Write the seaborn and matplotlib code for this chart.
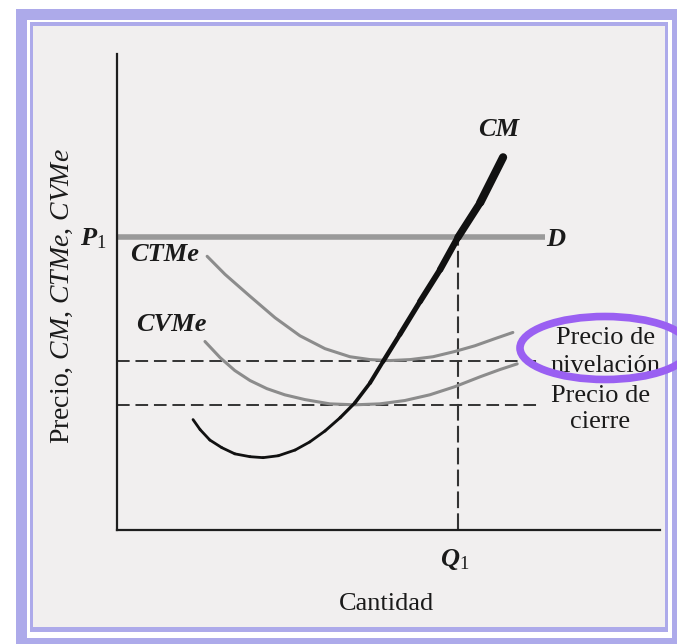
import matplotlib
matplotlib.use("Agg")
import matplotlib.pyplot as plt
from matplotlib.patches import Rectangle, Ellipse
import seaborn as sns
import numpy as np

# Datos (unidades: 0-100 en ambos ejes)
cm_q = [14.0, 15.3, 17.1, 19.3, 21.7, 24.5, 26.9, 29.7, 32.8, 35.5, 38.3,
        41.1, 43.8, 46.6, 49.0, 52.1, 55.8, 59.5, 62.8, 66.9, 71.1]
cm_p = [23.2, 21.1, 18.9, 17.3, 16.0, 15.4, 15.2, 15.6, 16.8, 18.5, 20.8,
        23.6, 26.7, 30.9, 35.4, 41.1, 48.0, 54.7, 61.5, 68.8, 78.3]
# grosor del trazo de CM en cada tramo (se engrosa hacia arriba)
cm_width = [2.0, 2.0, 2.0, 2.0, 2.0, 2.0, 2.0, 2.0, 2.0, 2.0, 2.0,
            2.1, 2.3, 2.6, 2.9, 3.3, 3.7, 4.2, 4.7, 5.3, 5.9]

ctme_q = [16.6, 19.9, 24.5, 29.1, 33.7, 38.3, 42.9, 46.6, 50.3, 54.0, 58.2,
          62.2, 65.9, 69.6, 72.9]
ctme_p = [57.5, 53.7, 49.1, 44.6, 40.8, 38.1, 36.4, 35.8, 35.6, 35.8, 36.4,
          37.5, 38.7, 40.2, 41.5]

cvme_q = [16.2, 19.0, 21.7, 24.5, 27.6, 30.9, 34.6, 39.2, 43.8, 48.4, 53.0,
          57.6, 62.2, 66.9, 70.5, 73.7]
cvme_p = [39.6, 36.2, 33.5, 31.4, 29.7, 28.4, 27.4, 26.5, 26.3, 26.5, 27.2,
          28.4, 30.1, 32.2, 33.7, 34.9]

p1 = 61.5          # precio de mercado (D)
q1 = 62.8          # cantidad óptima
p_nivel = 35.6     # precio de nivelación (mín. CTMe)
p_cierre = 26.3    # precio de cierre (mín. CVMe)
d_end = 78.8
dash_end = 77.9

sns.set_theme(style="white")
plt.rcParams['font.family'] = ['Liberation Serif', 'DejaVu Serif']
plt.rcParams['mathtext.fontset'] = 'custom'
plt.rcParams['mathtext.rm'] = 'Liberation Serif'
plt.rcParams['mathtext.it'] = 'Liberation Serif:italic'
plt.rcParams['mathtext.cal'] = 'Liberation Serif:italic:bold'

W, H = 677, 644
fig = plt.figure(figsize=(W / 100, H / 100), dpi=100, facecolor='white')

lav = '#adaaea'


def box(x0, y0, x1, y1, color):
    # rectángulo en píxeles (origen arriba a la izquierda)
    fig.add_artist(Rectangle((x0 / W, 1 - y1 / H), (x1 - x0) / W, (y1 - y0) / H,
                             transform=fig.transFigure, facecolor=color,
                             edgecolor='none', zorder=-5))


# marco lila
box(16, 9, 680, 648, lav)
box(27, 20, 672, 638, 'white')
box(30, 22, 668, 632, lav)
box(33, 26, 665, 627, '#f1efef')

ax = fig.add_axes([117 / W, 1 - 530 / H, (660 - 117) / W, (530 - 54) / H])
ax.set_facecolor('none')
ax.set_xlim(0, 100)
ax.set_ylim(0, 100)
ax.set_xticks([])
ax.set_yticks([])
sns.despine(ax=ax)
for s in ['left', 'bottom']:
    ax.spines[s].set_color('#1e1e1e')
    ax.spines[s].set_linewidth(1.6)

# líneas de referencia
ax.plot([0, d_end], [p1, p1], color='#9a9a9a', lw=4, solid_capstyle='butt')
ax.plot([0, dash_end], [p_nivel, p_nivel], color='#333333', lw=1.4,
        linestyle=(0, (6.5, 3)))
ax.plot([0, dash_end], [p_cierre, p_cierre], color='#333333', lw=1.4,
        linestyle=(0, (6.5, 3)))
ax.plot([q1, q1], [0, p1], color='#333333', lw=1.5, linestyle=(0, (8, 2.5)))

# curvas de costes
sns.lineplot(x=ctme_q, y=ctme_p, ax=ax, color='#8c8c8c', lw=2.2, sort=False)
sns.lineplot(x=cvme_q, y=cvme_p, ax=ax, color='#8c8c8c', lw=2.2, sort=False)

# CM: cada tramo con su grosor, extremos redondeados para unirlos
for i in range(len(cm_q) - 1):
    sns.lineplot(x=cm_q[i:i + 2], y=cm_p[i:i + 2], ax=ax, color='#111111',
                 lw=cm_width[i + 1], sort=False, solid_capstyle='round')

bi = dict(fontsize=19, fontweight='bold', fontstyle='italic', color='#1a1a1a',
          ha='center', va='center', clip_on=False)
ax.text(70.2, 84.2, 'CM', **bi)
ax.text(80.8, 61.1, 'D', **bi)
ax.text(8.8, 57.9, 'CTMe', **bi)
ax.text(10.1, 43.2, 'CVMe', **bi)
ax.text(-4.3, 61.3, r'$\mathcal{P}_1$', fontsize=19, color='#1a1a1a',
        ha='center', va='center')
ax.text(62.2, -6.3, r'$\mathcal{Q}_1$', fontsize=19, color='#1a1a1a',
        ha='center', va='center')

rg = dict(fontsize=19, color='#1a1a1a', ha='center', va='center')
ax.text(49.7, -15.6, 'Cantidad', **rg)
ax.text(-10.1, 49.1, 'Precio, $CM$, $CTMe$, $CVMe$', rotation=90,
        fontsize=20, color='#1a1a1a', ha='center', va='center')
ax.text(89.9, 40.4, 'Precio de', **rg)
ax.text(89.9, 34.5, 'nivelación', **rg)
ax.text(89.0, 28.2, 'Precio de', **rg)
ax.text(89.0, 22.6, 'cierre', **rg)

# elipse violeta alrededor de "Precio de nivelación"
fig.add_artist(Ellipse((605 / W, 1 - 348 / H), 170 / W, 63 / H,
                       transform=fig.transFigure, fill=False,
                       edgecolor='#9a60f2', lw=5.5, zorder=10))

fig.savefig('out.png', dpi=100)
